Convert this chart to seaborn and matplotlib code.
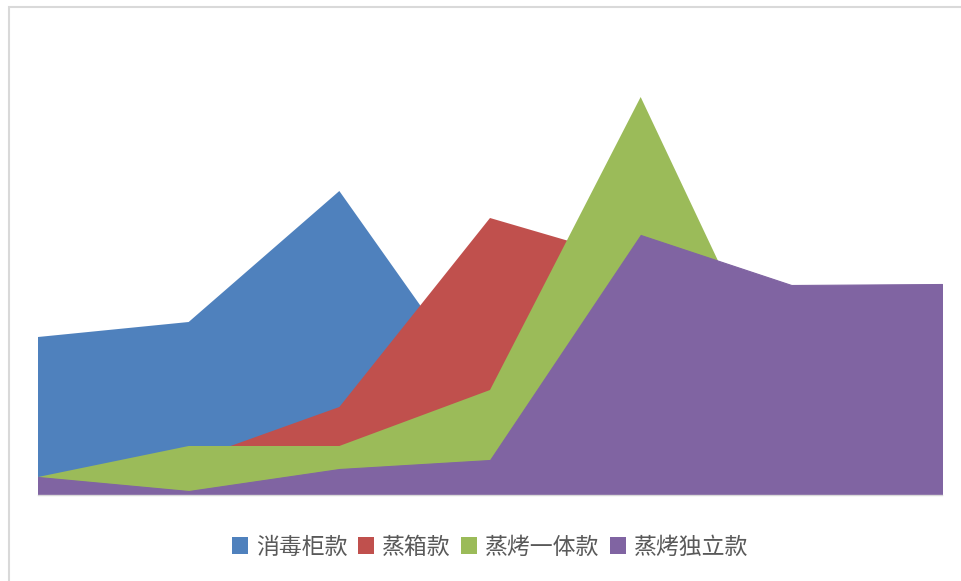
import matplotlib
matplotlib.use("Agg")
import matplotlib.pyplot as plt
from matplotlib.patches import Patch, Rectangle
import seaborn as sns
import pandas as pd

# 7 periods, values (overlapping, not stacked)
periods = [1, 2, 3, 4, 5, 6, 7]
series_names = ["消毒柜款", "蒸箱款", "蒸烤一体款", "蒸烤独立款"]
disinfection = [158, 173, 304, 91, 60, 50, 40]
steamer = [10, 34, 88, 277, 233, 150, 120]
steam_oven_combo = [18, 49, 49, 105, 398, 79, 60]
steam_oven_separate = [18, 4, 26, 35, 260, 210, 211]

colors = ["#4F81BD", "#C0504D", "#9BBB59", "#8064A2"]

df = pd.DataFrame({
    "period": periods,
    series_names[0]: disinfection,
    series_names[1]: steamer,
    series_names[2]: steam_oven_combo,
    series_names[3]: steam_oven_separate,
})

sns.set_theme(style="white")
plt.rcParams["font.family"] = ["Noto Sans CJK SC", "DejaVu Sans"]

fig = plt.figure(figsize=(9.62, 5.81), dpi=100)
ax = fig.add_axes([38 / 962, 86 / 581, 904 / 962, 450 / 581])

for i, (name, color) in enumerate(zip(series_names, colors)):
    front = i == len(series_names) - 1
    ax.fill_between(df["period"], 0, df[name], color=color,
                    edgecolor=color if front else "none",
                    linewidth=0.8 if front else 0)

ax.set_xlim(periods[0], periods[-1])
ax.set_ylim(0, 450)
ax.set_xticks([])
ax.set_yticks([])
sns.despine(ax=ax, left=True)
ax.spines["bottom"].set_color("#D9D9D9")
ax.spines["bottom"].set_linewidth(1)

handles = [Patch(facecolor=c, edgecolor="none") for c in colors]
fig.legend(
    handles, series_names,
    loc="center", bbox_to_anchor=(490 / 962, 1 - 547 / 581),
    ncol=4, frameon=False, fontsize=16.5,
    handlelength=0.7, handleheight=0.7, handletextpad=0.35,
    columnspacing=0.45, labelcolor="#595959",
)

# outer chart border (only left and top edges are inside the picture)
fig.add_artist(Rectangle((9 / 962, -0.1), 1.2, 1 - 7 / 581 + 0.1,
                         transform=fig.transFigure, fill=False,
                         edgecolor="#D9D9D9", linewidth=1.5))

fig.savefig("out.png", dpi=100)
